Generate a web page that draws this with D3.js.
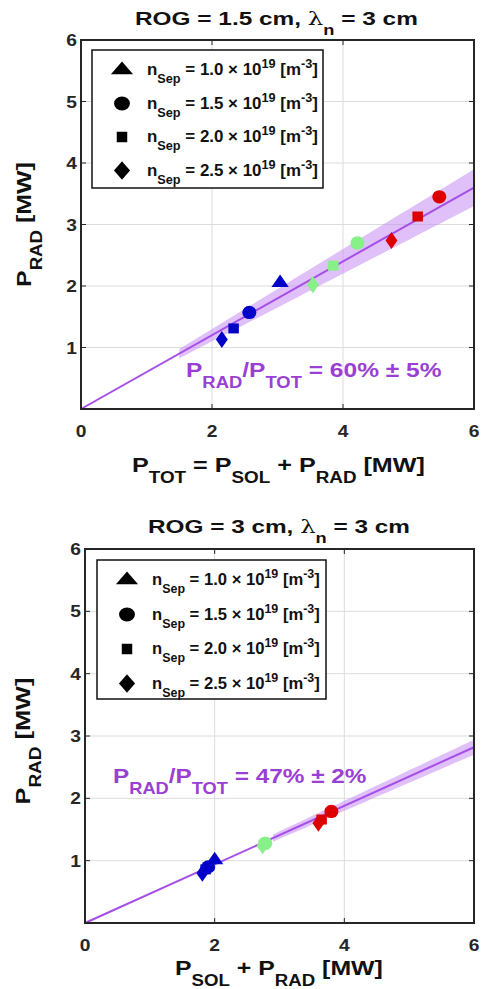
<!DOCTYPE html>
<html><head><meta charset="utf-8">
<script src="https://cdn.jsdelivr.net/npm/d3@7"></script>
<style>html,body{margin:0;padding:0;background:#fff;}svg{display:block;}</style>
</head><body>
<svg id="c" width="481" height="989"></svg>
<script>
// ---------- data ----------
const xTicks = [0, 2, 4, 6];
const yTicks = [1, 2, 3, 4, 5, 6];
const densityLabels = ["1.0", "1.5", "2.0", "2.5"];
const densityShapes = ["triangle", "circle", "square", "diamond"];

// Panel 1: ROG = 1.5 cm
const topTitle = ["ROG = 1.5 cm, ", "3 cm"];
const topPtot = [2.15, 2.33, 2.57, 3.04, 3.54, 3.85, 4.22, 4.74, 5.14, 5.47];
const topPrad = [1.13, 1.31, 1.57, 2.05, 2.02, 2.33, 2.70, 2.74, 3.13, 3.45];
const topDensity = ["2.5", "2.0", "1.5", "1.0", "2.5", "2.0", "1.5", "2.5", "2.0", "1.5"];
const topGroup = ["low", "low", "low", "low", "mid", "mid", "mid", "high", "high", "high"];
const topFit = 0.60, topErr = 0.05, topBand = [1.5, 6];

// Panel 2: ROG = 3 cm
const botTitle = ["ROG = 3 cm, ", "3 cm"];
const botPtot = [1.81, 1.86, 1.90, 2.00, 2.74, 2.76, 2.78, 3.60, 3.65, 3.80];
const botPrad = [0.80, 0.86, 0.90, 1.01, 1.24, 1.26, 1.28, 1.60, 1.66, 1.79];
const botDensity = ["2.5", "2.0", "1.5", "1.0", "2.5", "2.0", "1.5", "2.5", "2.0", "1.5"];
const botGroup = ["low", "low", "low", "low", "mid", "mid", "mid", "high", "high", "high"];
const botFit = 0.47, botErr = 0.02, botBand = [2.9, 6];

const groupColor = {low: "#0000c8", mid: "#88f088", high: "#dd0000"};
const purple = "#a64ee8", purpleText = "#9a3fd4", bandColor = "#c58cf2";

// ---------- helpers ----------
const svg = d3.select("#c");
const FONT = "'Liberation Sans', Arial, Helvetica, sans-serif";

function rich(sel, segs, fs) {
  let shift = 0;
  segs.forEach(s => {
    const target = s.k === "sub" ? fs * 0.5 : s.k === "sup" ? -fs * 0.42 : 0;
    const ts = sel.append("tspan").text(s.t).attr("dy", target - shift);
    shift = target;
    if (s.k) ts.attr("font-size", fs * 0.75);
    if (s.f) ts.attr("font-family", s.f).attr("font-weight", "normal");
  });
  return sel;
}
function mkText(parent, segs, fs, color) {
  const t = parent.append("text").attr("x", 0).attr("y", 0).attr("font-family", FONT)
    .attr("font-weight", "bold").attr("font-size", fs).attr("fill", color || "#111");
  return rich(t, segs, fs);
}
function placeH(t, left, base, width) {
  const w = t.node().getBBox().width;
  t.attr("transform", `translate(${left},${base}) scale(${width / w},1)`);
}
function placeV(t, bx, cy, len) {
  const w = t.node().getBBox().width;
  t.attr("transform", `translate(${bx},${cy + len / 2}) rotate(-90) scale(${len / w},1)`);
}

const symType = {triangle: d3.symbolTriangle, circle: d3.symbolCircle, square: d3.symbolSquare, diamond: d3.symbolDiamond};
const plotSym = {triangle: [90, 1.2], circle: [140, 1.05], square: [100, 1.05], diamond: [85, 1.2]};
const legSym = {triangle: [95, 1.5], circle: [150, 1.15], square: [110, 1.0], diamond: [100, 1.5]};

function panel(o) {
  const x = d3.scaleLinear().domain([0, 6]).range([o.x0, o.x1]);
  const y = d3.scaleLinear().domain([0, 6]).range([o.y0, o.y1]);
  const g = svg.append("g");

  g.selectAll(".gx").data(xTicks.filter(d => d > 0 && d < 6)).join("line")
    .attr("x1", d => x(d)).attr("x2", d => x(d)).attr("y1", y(0)).attr("y2", y(6))
    .attr("stroke", "#dcdcdc").attr("stroke-width", 1);
  g.selectAll(".gy").data(yTicks.filter(d => d < 6)).join("line")
    .attr("y1", d => y(d)).attr("y2", d => y(d)).attr("x1", x(0)).attr("x2", x(6))
    .attr("stroke", "#dcdcdc").attr("stroke-width", 1);

  const bx = d3.range(o.band[0], o.band[1] + 0.001, 0.1);
  const area = d3.area().x(d => x(d)).y0(d => y(d * (o.fit - o.err))).y1(d => y(d * (o.fit + o.err)));
  g.append("path").datum(bx).attr("d", area).attr("fill", bandColor).attr("opacity", 0.55);
  g.append("line").attr("x1", x(0)).attr("y1", y(0)).attr("x2", x(6)).attr("y2", y(6 * o.fit))
    .attr("stroke", purple).attr("stroke-width", 2);

  g.selectAll(".pt").data(o.px.map((v, i) => i)).join("path")
    .attr("transform", i => {
      const sh = densityShapes[densityLabels.indexOf(o.dens[i])];
      return `translate(${x(o.px[i])},${y(o.py[i])}) scale(${plotSym[sh][1]},1)`;
    })
    .attr("d", i => {
      const sh = densityShapes[densityLabels.indexOf(o.dens[i])];
      return d3.symbol().type(symType[sh]).size(plotSym[sh][0])();
    })
    .attr("fill", i => groupColor[o.grp[i]]);

  placeH(mkText(g, [{t: "P"}, {t: "RAD", k: "sub"}, {t: "/P"}, {t: "TOT", k: "sub"}, {t: "  = " + o.annText}], 21, purpleText),
    o.ann[0], o.ann[1], o.ann[2]);

  g.append("rect").attr("x", x(0)).attr("y", y(6)).attr("width", x(6) - x(0)).attr("height", y(0) - y(6))
    .attr("fill", "none").attr("stroke", "#262626").attr("stroke-width", 2);
  const tl = 5;
  xTicks.filter(d => d > 0 && d < 6).forEach(d => {
    g.append("line").attr("x1", x(d)).attr("x2", x(d)).attr("y1", y(0)).attr("y2", y(0) - tl).attr("stroke", "#262626");
    g.append("line").attr("x1", x(d)).attr("x2", x(d)).attr("y1", y(6)).attr("y2", y(6) + tl).attr("stroke", "#262626");
  });
  yTicks.filter(d => d < 6).forEach(d => {
    g.append("line").attr("y1", y(d)).attr("y2", y(d)).attr("x1", x(0)).attr("x2", x(0) + tl).attr("stroke", "#262626");
    g.append("line").attr("y1", y(d)).attr("y2", y(d)).attr("x1", x(6)).attr("x2", x(6) - tl).attr("stroke", "#262626");
  });
  g.selectAll(".xl").data(xTicks).join("text")
    .attr("transform", d => `translate(${x(d)},${y(0) + 28}) scale(1.2,1)`)
    .attr("text-anchor", "middle").attr("font-family", FONT).attr("font-weight", "bold").attr("font-size", 16)
    .attr("fill", "#262626").text(d => d);
  g.selectAll(".yl").data(yTicks).join("text")
    .attr("transform", d => `translate(${x(0) - 4},${y(d) + 6}) scale(1.2,1)`)
    .attr("text-anchor", "end").attr("font-family", FONT).attr("font-weight", "bold").attr("font-size", 16)
    .attr("fill", "#262626").text(d => d);

  placeH(mkText(svg, [{t: o.title[0]}, {t: "λ", f: "'DejaVu Serif', serif"}, {t: "n", k: "sub"}, {t: " = " + o.title[1]}], 19),
    o.ttl[0], o.ttl[1], o.ttl[2]);
  placeH(mkText(svg, o.xlab, 21), o.xl[0], o.xl[1], o.xl[2]);
  placeV(mkText(svg, [{t: "P"}, {t: "RAD", k: "sub"}, {t: " [MW]"}], 21), o.yl[0], (y(0) + y(6)) / 2 + o.yl[1], o.yl[2]);

  const L = o.leg;
  const lg = svg.append("g");
  lg.append("rect").attr("x", L.x).attr("y", L.y).attr("width", L.w).attr("height", L.h)
    .attr("fill", "#fff").attr("stroke", "#111").attr("stroke-width", 1.5);
  densityLabels.forEach((lab, i) => {
    const cy = L.y + 20 + i * L.dy;
    const sh = densityShapes[i];
    lg.append("path").attr("transform", `translate(${L.x + 30},${cy}) scale(${legSym[sh][1]},1)`)
      .attr("d", d3.symbol().type(symType[sh]).size(legSym[sh][0])()).attr("fill", "#000");
    placeH(mkText(lg, [{t: "n"}, {t: "Sep", k: "sub"}, {t: " = " + lab + " × 10"}, {t: "19", k: "sup"}, {t: " [m"}, {t: "-3", k: "sup"}, {t: "]"}], 16),
      L.tx, cy + 5, L.tw);
  });
}

panel({
  x0: 81, x1: 474, y0: 409, y1: 40,
  px: topPtot, py: topPrad, dens: topDensity, grp: topGroup,
  fit: topFit, err: topErr, band: topBand,
  ann: [186, 377, 256], annText: "60% ± 5%",
  title: topTitle, ttl: [135, 25, 283],
  xlab: [{t: "P"}, {t: "TOT", k: "sub"}, {t: " = P"}, {t: "SOL", k: "sub"}, {t: " + P"}, {t: "RAD", k: "sub"}, {t: " [MW]"}],
  xl: [132, 472, 293],
  yl: [31, 0, 125],
  leg: {x: 92, y: 50, w: 231, h: 138, dy: 33.5, tx: 147, tw: 171}
});

panel({
  x0: 85, x1: 474, y0: 923, y1: 549,
  px: botPtot, py: botPrad, dens: botDensity, grp: botGroup,
  fit: botFit, err: botErr, band: botBand,
  ann: [113, 783, 254], annText: "47% ± 2%",
  title: botTitle, ttl: [148, 533, 262],
  xlab: [{t: "P"}, {t: "SOL", k: "sub"}, {t: " + P"}, {t: "RAD", k: "sub"}, {t: " [MW]"}],
  xl: [175, 975, 208],
  yl: [30, 5, 127],
  leg: {x: 97, y: 560, w: 229, h: 139, dy: 34.5, tx: 152, tw: 168}
});
</script>
</body></html>
